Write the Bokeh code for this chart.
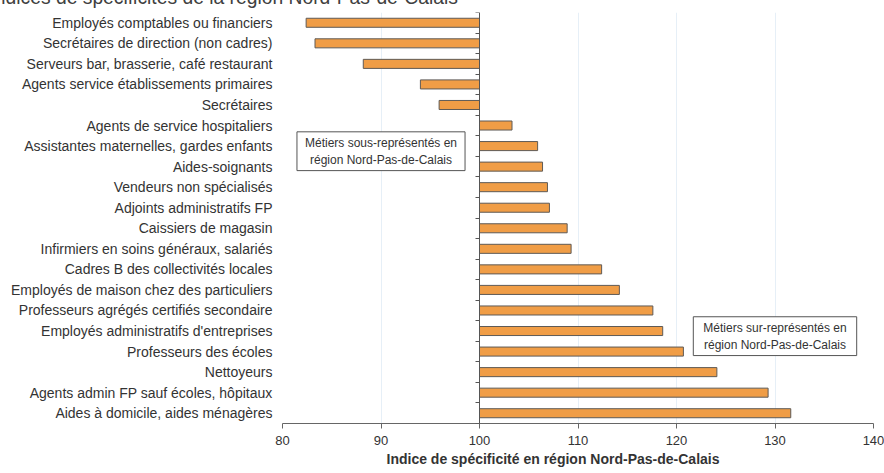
from bokeh.plotting import figure
from bokeh.models import Range1d, LinearAxis, FixedTicker, Label, Title
from bokeh.embed import file_html
from bokeh.resources import INLINE

# ---- data ----
categories = [
    "Employés comptables ou financiers",
    "Secrétaires de direction (non cadres)",
    "Serveurs bar, brasserie, café restaurant",
    "Agents service établissements primaires",
    "Secrétaires",
    "Agents de service hospitaliers",
    "Assistantes maternelles, gardes enfants",
    "Aides-soignants",
    "Vendeurs non spécialisés",
    "Adjoints administratifs FP",
    "Caissiers de magasin",
    "Infirmiers en soins généraux, salariés",
    "Cadres B des collectivités locales",
    "Employés de maison chez des particuliers",
    "Professeurs agrégés certifiés secondaire",
    "Employés administratifs d'entreprises",
    "Professeurs des écoles",
    "Nettoyeurs",
    "Agents admin FP sauf écoles, hôpitaux",
    "Aides à domicile, aides ménagères",
]
values = [82.4, 83.3, 88.2, 94.0, 95.9, 103.3, 105.9, 106.4, 106.9, 107.1,
          108.9, 109.3, 112.4, 114.2, 117.6, 118.6, 120.7, 124.1, 129.3, 131.6]
x_ticks = [80, 90, 100, 110, 120, 130, 140]
reference_value = 100
title_text = "Indices de spécificités de la région Nord-Pas-de-Calais"
x_title = "Indice de spécificité en région Nord-Pas-de-Calais"
note_under = "Métiers sous-représentés en\nrégion Nord-Pas-de-Calais"
note_over = "Métiers sur-représentés en\nrégion Nord-Pas-de-Calais"

FONT = "Liberation Sans"
TXT = "#333333"

n = len(categories)
centers = [i + 0.5 for i in range(n)]
bounds = list(range(n + 1))

p = figure(frame_width=591, frame_height=411,
           min_border_left=282, min_border_right=11,
           min_border_top=43, min_border_bottom=50,
           x_range=Range1d(x_ticks[0], x_ticks[-1]), y_range=Range1d(n, 0),
           y_axis_location=None, output_backend="svg", toolbar_location=None)
p.styles = {"margin-top": "-31px", "margin-bottom": "-20px"}
p.outline_line_color = None
p.background_fill_color = "white"
p.border_fill_color = "white"

# title (cut off at the top, as in the reference)
p.title.text = title_text
p.title.align = "left"
p.title.offset = -293
p.title.standoff = 10
p.title.text_font = FONT
p.title.text_font_size = "19.3px"
p.title.text_font_style = "normal"
p.title.text_color = "#404040"

# x axis
xa = p.xaxis[0]
xa.ticker = FixedTicker(ticks=x_ticks)
xa.axis_line_color = "#666666"
xa.major_tick_line_color = "#666666"
xa.major_tick_out = 5
xa.major_tick_in = 0
xa.minor_tick_out = 0
xa.minor_tick_in = 0
xa.major_label_text_font = FONT
xa.major_label_text_font_size = "13px"
xa.major_label_text_color = TXT
xa.major_label_standoff = 7

p.add_layout(Title(text=x_title, align="left", offset=104, standoff=3,
                   text_font=FONT, text_font_size="14px", text_font_style="bold",
                   text_color="#333333"), "below")

p.xgrid.ticker = FixedTicker(ticks=x_ticks)
p.xgrid.grid_line_color = "#e6eff7"
p.ygrid.visible = False

# category label axis
ya = LinearAxis(ticker=FixedTicker(ticks=centers),
                major_label_overrides={c: name for c, name in zip(centers, categories)})
ya.axis_line_color = None
ya.major_tick_line_color = None
ya.minor_tick_line_color = None
ya.major_tick_out = 0
ya.major_label_standoff = 10
ya.major_label_text_font = FONT
ya.major_label_text_font_size = "14px"
ya.major_label_text_color = TXT
p.add_layout(ya, "left")

# axis at the reference value
ra = LinearAxis(ticker=FixedTicker(ticks=bounds), fixed_location=reference_value,
                major_label_overrides={b: "" for b in bounds})
ra.axis_line_color = "#555555"
ra.major_tick_line_color = "#555555"
ra.major_tick_out = 4
ra.major_tick_in = 0
ra.minor_tick_out = 0
ra.minor_tick_in = 0
ra.major_label_standoff = 0
p.add_layout(ra, "left")

p.hbar(y=centers, left=reference_value, right=values, height=0.44,
       fill_color="#F09D46", line_color="#5e5a56", line_width=1)

# notes
for xv, yv, txt, px in [(90.0, 6.75, note_under, 8), (130.0, 15.75, note_over, 10)]:
    p.add_layout(Label(x=xv, y=yv, text=txt, text_font=FONT, text_font_size="12px",
                       text_color=TXT, text_align="center", text_baseline="middle",
                       border_line_color="#555555", border_line_width=1,
                       background_fill_color="white",
                       padding=dict(left=px, right=px, top=4, bottom=4)))

open("out.html", "w").write(file_html(p, INLINE))
